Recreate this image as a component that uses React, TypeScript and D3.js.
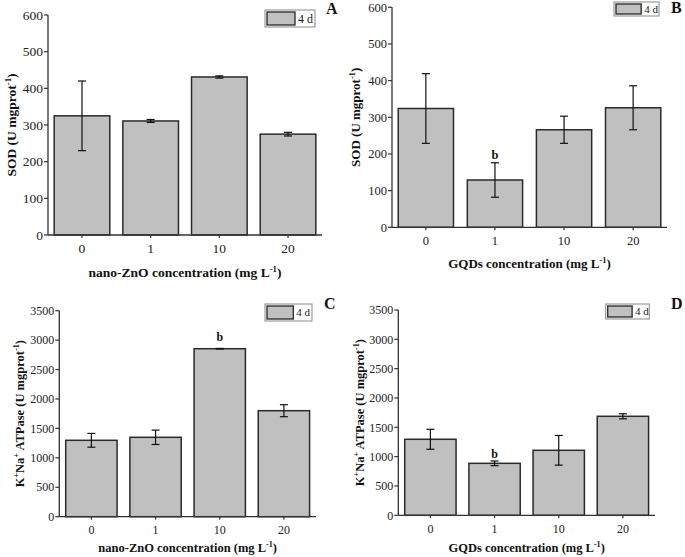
import React from "react";
import * as d3 from "d3";

const categories = ["0", "1", "10", "20"];
const sodZnO = [325, 311, 431, 275];
const sodZnOErr = [95, 4, 3, 5];
const sodGQD = [324, 129, 266, 326];
const sodGQDErr = [95, 47, 37, 60];
const atpZnO = [1298, 1349, 2854, 1801];
const atpZnOErr = [117, 122, 5, 102];
const atpGQD = [1296, 886, 1108, 1688];
const atpGQDErr = [170, 40, 253, 43];
const sodTicks = [0, 100, 200, 300, 400, 500, 600];
const atpTicks = [0, 500, 1000, 1500, 2000, 2500, 3000, 3500];
const legendLabel = "4 d";

const FONT = "'Liberation Serif', 'Times New Roman', serif";

type PanelProps = {
  values: number[];
  errs: number[];
  ticks: number[];
  yMax: number;
  x0: number;
  x1: number;
  yTop: number;
  yBot: number;
  tickFont: number;
  titleFont: number;
  xTitle: string;
  yTitle: "sod" | "atp";
  yTitleX: number;
  xTitleY: number;
  xTickY: number;
  letter: string;
  letterX: number;
  letterY: number;
  legend: [number, number, number, number];
  legendFont: number;
  bIndex: number | null;
  bY: number;
  po: number;
  pi: number;
};

function Panel(p: PanelProps) {
  const x = d3
    .scaleBand<string>()
    .domain(categories)
    .range([p.x0, p.x1])
    .paddingInner(p.pi)
    .paddingOuter(p.po);
  const y = d3.scaleLinear().domain([0, p.yMax]).range([p.yBot, p.yTop]);
  const [lx, ly, lw, lh] = p.legend;
  const xMid = (p.x0 + p.x1) / 2;
  const yMid = (p.yTop + p.yBot) / 2;
  const sup = p.titleFont * 0.65;
  return (
    <g fontFamily={FONT}>
      {p.values.map((v, i) => (
        <rect
          key={"b" + i}
          x={x(categories[i])!}
          y={y(v)}
          width={x.bandwidth()}
          height={p.yBot - y(v)}
          fill="#c0c0c0"
          stroke="#2a2a2a"
          strokeWidth={1.5}
        />
      ))}
      {p.values.map((v, i) => {
        const cx = x(categories[i])! + x.bandwidth() / 2;
        const hi = y(v + p.errs[i]);
        const lo = y(v - p.errs[i]);
        return (
          <g key={"e" + i} stroke="#111" strokeWidth={1.2}>
            <line x1={cx} x2={cx} y1={hi} y2={lo} />
            <line x1={cx - 4} x2={cx + 4} y1={hi} y2={hi} />
            <line x1={cx - 4} x2={cx + 4} y1={lo} y2={lo} />
          </g>
        );
      })}
      {p.bIndex !== null && (
        <text
          x={x(categories[p.bIndex])! + x.bandwidth() / 2}
          y={p.bY}
          textAnchor="middle"
          fontWeight="bold"
          fontSize={p.tickFont}
          fill="#111"
        >
          b
        </text>
      )}
      <line x1={p.x0} x2={p.x0} y1={p.yTop} y2={p.yBot} stroke="#333" strokeWidth={1.3} />
      <line x1={p.x0} x2={p.x1} y1={p.yBot} y2={p.yBot} stroke="#333" strokeWidth={1.3} />
      {p.ticks.map((t) => (
        <g key={"yt" + t}>
          <line x1={p.x0 - 4} x2={p.x0} y1={y(t)} y2={y(t)} stroke="#333" strokeWidth={1.2} />
          <text
            x={p.x0 - 5}
            y={y(t)}
            dy="0.35em"
            textAnchor="end"
            fontSize={p.tickFont}
            fill="#222"
          >
            {t}
          </text>
        </g>
      ))}
      {categories.map((c) => {
        const cx = x(c)! + x.bandwidth() / 2;
        return (
          <g key={"xt" + c}>
            <line x1={cx} x2={cx} y1={p.yBot} y2={p.yBot + 3} stroke="#333" strokeWidth={1.2} />
            <text x={cx} y={p.xTickY} textAnchor="middle" fontSize={p.tickFont} fill="#222">
              {c}
            </text>
          </g>
        );
      })}
      <text x={xMid} y={p.xTitleY} textAnchor="middle" fontWeight="bold" fontSize={p.titleFont} fill="#111">
        {p.xTitle} (mg L
        <tspan dy={-p.titleFont * 0.4} fontSize={sup}>-1</tspan>
        <tspan dy={p.titleFont * 0.4}>)</tspan>
      </text>
      <text
        transform={`translate(${p.yTitleX},${yMid}) rotate(-90)`}
        textAnchor="middle"
        fontWeight="bold"
        fontSize={p.titleFont}
        fill="#111"
      >
        {p.yTitle === "sod" ? (
          <>
            SOD (U mgprot
            <tspan dy={-p.titleFont * 0.4} fontSize={sup}>-1</tspan>
            <tspan dy={p.titleFont * 0.4}>)</tspan>
          </>
        ) : (
          <>
            K
            <tspan dy={-p.titleFont * 0.4} fontSize={sup}>+</tspan>
            <tspan dy={p.titleFont * 0.4}>Na</tspan>
            <tspan dy={-p.titleFont * 0.4} fontSize={sup}>+</tspan>
            <tspan dy={p.titleFont * 0.4}> ATPase (U mgprot</tspan>
            <tspan dy={-p.titleFont * 0.4} fontSize={sup}>-1</tspan>
            <tspan dy={p.titleFont * 0.4}>)</tspan>
          </>
        )}
      </text>
      <rect x={lx} y={ly} width={lw} height={lh} fill="#fff" stroke="#888" strokeWidth={1} />
      <rect
        x={lx + 2}
        y={ly + 2}
        width={lw * 0.56}
        height={lh - 4}
        fill="#c0c0c0"
        stroke="#333"
        strokeWidth={1.4}
      />
      <text
        x={lx + 2 + lw * 0.56 + 3}
        y={ly + lh / 2}
        dy="0.35em"
        fontSize={p.legendFont}
        fill="#222"
      >
        {legendLabel}
      </text>
      <text x={p.letterX} y={p.letterY} fontWeight="bold" fontSize={16} fill="#111">
        {p.letter}
      </text>
    </g>
  );
}

export default function App() {
  return (
    <svg
      width={685}
      height={557}
      style={{ position: "absolute", left: 0, top: 0, background: "#fff" }}
    >
      <rect width={685} height={557} fill="#fff" />
      <Panel
        values={sodZnO}
        errs={sodZnOErr}
        ticks={sodTicks}
        yMax={600}
        x0={48}
        x1={322}
        yTop={15}
        yBot={235}
        tickFont={13.5}
        titleFont={13.5}
        xTitle="nano-ZnO concentration"
        yTitle="sod"
        yTitleX={16}
        xTitleY={277}
        xTickY={253}
        letter="A"
        letterX={326}
        letterY={14}
        legend={[265, 10, 50, 17]}
        legendFont={12}
        bIndex={null}
        bY={0}
        po={0.09}
        pi={0.19}
      />
      <Panel
        values={sodGQD}
        errs={sodGQDErr}
        ticks={sodTicks}
        yMax={600}
        x0={392}
        x1={667}
        yTop={7.3}
        yBot={227.3}
        tickFont={12.5}
        titleFont={13}
        xTitle="GQDs concentration"
        yTitle="sod"
        yTitleX={360}
        xTitleY={268}
        xTickY={245}
        letter="B"
        letterX={671}
        letterY={13}
        legend={[614, 2, 45, 14]}
        legendFont={11}
        bIndex={1}
        bY={159}
        po={0.09}
        pi={0.2}
      />
      <Panel
        values={atpZnO}
        errs={atpZnOErr}
        ticks={atpTicks}
        yMax={3500}
        x0={59.3}
        x1={316}
        yTop={310.7}
        yBot={516.7}
        tickFont={12}
        titleFont={12.5}
        xTitle="nano-ZnO concentration"
        yTitle="atp"
        yTitleX={24}
        xTitleY={552}
        xTickY={534}
        letter="C"
        letterX={324}
        letterY={309}
        legend={[265, 304, 47, 17]}
        legendFont={11}
        bIndex={2}
        bY={341}
        po={0.1}
        pi={0.2}
      />
      <Panel
        values={atpGQD}
        errs={atpGQDErr}
        ticks={atpTicks}
        yMax={3500}
        x0={398.3}
        x1={655}
        yTop={310}
        yBot={515.3}
        tickFont={12}
        titleFont={12.5}
        xTitle="GQDs concentration"
        yTitle="atp"
        yTitleX={364}
        xTitleY={552}
        xTickY={533}
        letter="D"
        letterX={671}
        letterY={309}
        legend={[605.7, 304, 43.6, 15]}
        legendFont={11}
        bIndex={1}
        bY={458}
        po={0.1}
        pi={0.2}
      />
    </svg>
  );
}
